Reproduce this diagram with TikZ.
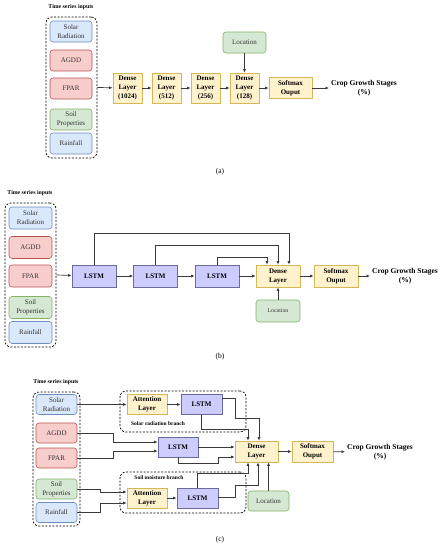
\documentclass[tikz,border=0pt]{standalone}
\usepackage{fontspec}
\setmainfont{Liberation Serif}
\usetikzlibrary{arrows.meta}
\definecolor{blueF}{HTML}{DAE8FC}
\definecolor{blueD}{HTML}{6C8EBF}
\definecolor{redF}{HTML}{F8CECC}
\definecolor{redD}{HTML}{B85450}
\definecolor{greenF}{HTML}{D5E8D4}
\definecolor{greenD}{HTML}{82B366}
\definecolor{yellowF}{HTML}{FFF2CC}
\definecolor{yellowD}{HTML}{D6B656}
\definecolor{lstmF}{HTML}{CCCCFF}
\definecolor{lstmD}{HTML}{6A6A9E}
\definecolor{lineC}{HTML}{3A3A3A}
\tikzset{
    box/.style={draw, align=center, inner sep=1pt, line width=0.6pt, font=\fontsize{7}{9}\selectfont, text=black!80},
    inblue/.style={box, rounded corners=3pt, fill=blueF, draw=blueD},
    inred/.style={box, rounded corners=3pt, fill=redF, draw=redD},
    ingreen/.style={box, rounded corners=3pt, fill=greenF, draw=greenD},
    dense/.style={box, fill=yellowF, draw=yellowD, font=\fontsize{7}{9}\selectfont\bfseries, text=black},
    lstm/.style={box, fill=lstmF, draw=lstmD, font=\fontsize{7}{9}\selectfont\bfseries, text=black},
    grp/.style={draw, dash pattern=on 2pt off 1.5pt, line width=0.7pt, rounded corners=6pt, inner sep=0pt},
    title/.style={font=\fontsize{5.8}{7}\selectfont\bfseries},
    outtxt/.style={align=center, inner sep=2pt, font=\fontsize{7.5}{9}\selectfont\bfseries},
    subcap/.style={font=\fontsize{7.5}{9}\selectfont},
    conn/.style={draw=lineC, line width=0.7pt, -{Latex[length=3.5pt,width=3pt]}}
}
\begin{document}
\begin{tikzpicture}[x=1pt,y=-1pt]
    \useasboundingbox (0,0) rectangle (442,550);
    % (a)
    \node[title] (atitle) at (71,7) {Time series inputs};
    \node[grp, minimum width=51, minimum height=141] (agrp) at (71.5,87.5) {};
    \foreach \n/\t/\s/\y in {sr/Solar\\Radiation/inblue/31.5, ag/AGDD/inred/60.5, fp/FPAR/inred/88.5, so/Soil\\Properties/ingreen/119.5, ra/Rainfall/inblue/143.5}
        \node[\s, minimum width=42, minimum height=21] (a\n) at (71,\y) {\t};
    \foreach \i/\x/\t in {1/127.5/1024, 2/166.5/512, 3/205.5/256, 4/244.5/128}
        \node[dense, minimum width=29, minimum height=30] (ad\i) at (\x,88) {Dense\\Layer\\(\t)};
    \node[dense, minimum width=43, minimum height=21] (asm) at (290.5,88) {Softmax\\Ouput};
    \node[ingreen, minimum width=43, minimum height=21] (aloc) at (244.5,42.5) {Location};
    \node[outtxt] (aout) at (364,88) {Crop Growth Stages\\(\%)};
    \node[subcap] (acap) at (220,172) {(a)};
    \draw[conn] (agrp.east) -- (ad1);
    \foreach \i/\j in {1/2, 2/3, 3/4}
        \draw[conn] (ad\i) -- (ad\j);
    \draw[conn] (ad4) -- (asm);
    \draw[conn] (asm) -- (aout);
    \draw[conn] (aloc) -- (ad4);
    % (b)
    \node[title] (btitle) at (30,193) {Time series inputs};
    \node[grp, minimum width=51, minimum height=144] (bgrp) at (30.5,275) {};
    \foreach \n/\t/\s/\y in {sr/Solar\\Radiation/inblue/218, ag/AGDD/inred/247.5, fp/FPAR/inred/276, so/Soil\\Properties/ingreen/307.5, ra/Rainfall/inblue/332.5}
        \node[\s, minimum width=43, minimum height=22] (b\n) at (30.5,\y) {\t};
    \foreach \i/\x in {1/94, 2/155.5, 3/217}
        \node[lstm, minimum width=44, minimum height=22] (bl\i) at (\x,276) {LSTM};
    \node[dense, minimum width=44, minimum height=22] (bd) at (278,276) {Dense\\Layer};
    \node[dense, minimum width=44, minimum height=22] (bsm) at (336,276) {Softmax\\Ouput};
    \node[ingreen, minimum width=44, minimum height=22, font=\fontsize{5.8}{7}\selectfont] (bloc) at (278,311) {Location};
    \node[outtxt] (bout) at (405,276) {Crop Growth Stages\\(\%)};
    \node[subcap] (bcap) at (220,357) {(b)};
    \draw[conn] (bgrp.east) -- (bl1);
    \foreach \i/\j in {1/2, 2/3}
        \draw[conn] (bl\i) -- (bl\j);
    \draw[conn] (bl3) -- (bd);
    \draw[conn] (bd) -- (bsm);
    \draw[conn] (bsm) -- (bout);
    \draw[conn] (bloc) -- (bd);
    \draw[conn] (bl1.north) -- ++(0,-31) -| ([xshift=11pt]bd.north);
    \draw[conn] (bl2.north) -- ++(0,-19) -| (bd.north);
    \draw[conn] (bl3.north) -- ++(0,-7) -| ([xshift=-11pt]bd.north);
    % (c)
    \node[title] (ctitle) at (56,382) {Time series inputs};
    \node[grp, minimum width=47, minimum height=134] (cgrp) at (56.5,459) {};
    \foreach \n/\t/\s/\y in {sr/Solar\\Radiation/inblue/404.5, ag/AGDD/inred/433, fp/FPAR/inred/458, so/Soil\\Properties/ingreen/489, ra/Rainfall/inblue/512.5}
        \node[\s, minimum width=41, minimum height=20] (c\n) at (56.5,\y) {\t};
    \node[grp, minimum width=126, minimum height=41] (cbr1) at (183,411.5) {};
    \node[grp, minimum width=126, minimum height=41] (cbr2) at (183,492.5) {};
    \node[title, font=\fontsize{5.5}{7}\selectfont\bfseries] (cbr1t) at (158,424) {Solar radiation branch};
    \node[title, font=\fontsize{5.5}{7}\selectfont\bfseries] (cbr2t) at (159,478) {Soil moisture branch};
    \node[dense, minimum width=40, minimum height=20] (ca1) at (147,404.5) {Attention\\Layer};
    \node[lstm, minimum width=41, minimum height=20] (cl1) at (201.5,404.5) {LSTM};
    \node[lstm, minimum width=40, minimum height=20] (cml) at (178,447) {LSTM};
    \node[dense, minimum width=40, minimum height=20] (ca2) at (147,498) {Attention\\Layer};
    \node[lstm, minimum width=41, minimum height=20] (cl2) at (197.5,498) {LSTM};
    \node[dense, minimum width=43, minimum height=21] (cd) at (256.5,451.5) {Dense\\Layer};
    \node[dense, minimum width=41, minimum height=21] (csm) at (312.5,451.5) {Softmax\\Ouput};
    \node[ingreen, minimum width=41, minimum height=20] (cloc) at (268.5,501) {Location};
    \node[outtxt] (cout) at (380,452) {Crop Growth Stages\\(\%)};
    \node[subcap] (ccap) at (220,540) {(c)};
    \draw[conn] (csr) -- (ca1);
    \draw[conn] (ca1) -- (cl1);
    \draw[conn] ([yshift=6pt]cl1.east) -- ++(13,0) -- ++(0,20) -| ([xshift=2.5pt]cd.north);
    \draw[conn] (cl1.south) -- ++(0,15) -| ([xshift=-8.5pt]cd.north);
    \draw[conn] (cag.east) -- ++(36,0) |- ([yshift=5pt]cml.west);
    \draw[conn] (cfp.east) -- ++(36,0) |- ([yshift=-4pt]cml.west);
    \draw[conn] (cml.east) -- ([yshift=4.5pt]cd.west);
    \draw[conn] (cml.south) -- ++(0,6) -- ++(40,0) |- ([yshift=-5.5pt]cd.west);
    \draw[conn] (cso.east) -- ++(23,0) |- ([yshift=6pt]ca2.west);
    \draw[conn] (cra.east) -- ++(23,0) |- ([yshift=-5pt]ca2.west);
    \draw[conn] (ca2) -- (cl2);
    \draw[conn] (cl2.north) -- ++(0,-14) -| ([xshift=-8.5pt]cd.south);
    \draw[conn] ([yshift=1pt]cl2.east) -- ++(17,0) -- ++(0,-12) -| ([xshift=1.5pt]cd.south);
    \draw[conn] (cloc.north) -- (cloc.north |- cd.south);
    \draw[conn] (cd) -- (csm);
    \draw[conn] (csm) -- (cout);
\end{tikzpicture}
\end{document}
